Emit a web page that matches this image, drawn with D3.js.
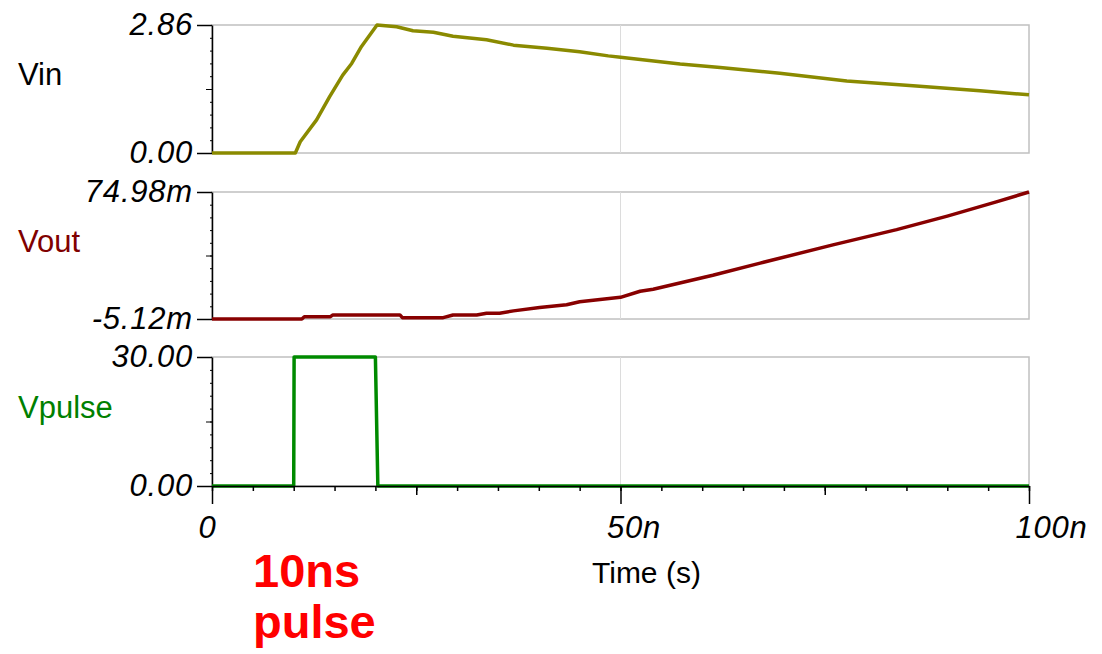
<!DOCTYPE html>
<html>
<head>
<meta charset="utf-8">
<script src="https://cdn.jsdelivr.net/npm/d3@7"></script>
<style>
  body { margin: 0; background: #fff; }
  svg text { font-family: "Liberation Sans", Arial, sans-serif; }
  .tick line { stroke: #000; }
</style>
</head>
<body>
<svg id="grafico" width="1102" height="654"></svg>
<script>
"use strict"
// time in ns
var tempoVin = [0, 10.2, 10.8, 12.8, 14.4, 16.0, 17.1, 18.3, 20.2, 22.6, 24.6, 27.1, 29.5, 33.6, 36.9, 41.0, 45, 48.5, 50, 57.3, 62.2, 69.5, 77.7, 85.8, 94, 100];
var valoresVin = [0, 0, 0.25, 0.74, 1.26, 1.74, 2.00, 2.38, 2.86, 2.82, 2.73, 2.70, 2.61, 2.53, 2.41, 2.34, 2.26, 2.17, 2.14, 1.99, 1.91, 1.78, 1.61, 1.50, 1.39, 1.30];

// Vout in mV
var tempoVout = [0, 11.0, 11.3, 14.5, 14.8, 23.0, 23.3, 28.3, 29.5, 32.4, 33.6, 35.2, 36.9, 40.1, 43.4, 45, 50, 52.4, 54, 61.3, 67.1, 76, 83.8, 90, 96, 100];
var valoresVout = [-5.12, -5.12, -3.65, -3.65, -2.56, -2.56, -4.29, -4.29, -2.56, -2.56, -1.47, -1.47, 0.01, 2.12, 3.85, 5.77, 8.53, 12.37, 13.66, 22.44, 30.12, 41.66, 51.27, 59.8, 68.77, 74.98];

var tempoPulse = [0, 10, 10.05, 20, 20.3, 100];
var valoresPulse = [0, 0, 30, 30, 0, 0];

var nomes = ["Vin", "Vout", "Vpulse"];
var cores = ["#8a8a00", "#880000", "#008a00"];
var corTexto = ["#000", "#800000", "#008000"];
var dominios = [[0, 2.86], [-5.12, 74.98], [0, 30]];
var rotulosY = [["0.00", "2.86"], ["-5.12m", "74.98m"], ["0.00", "30.00"]];
var ticksX = [0, 50, 100];
var rotulosX = ["0", "50n", "100n"];

var svg = d3.select("svg#grafico");
var esq = 212, dir = 1029;
var topos = [25, 192, 357], bases = [153, 319, 486];

var x = d3.scaleLinear().domain([0, 100]).range([esq, dir]);

var series = [
  d3.zip(tempoVin, valoresVin),
  d3.zip(tempoVout, valoresVout),
  d3.zip(tempoPulse, valoresPulse)
];

series.forEach(function(dados, i) {
  var y = d3.scaleLinear().domain(dominios[i]).range([bases[i], topos[i]]);
  var g = svg.append("g").attr("class", "painel");

  // frame + grid
  g.append("rect")
      .attr("x", esq).attr("y", topos[i])
      .attr("width", dir - esq).attr("height", bases[i] - topos[i])
      .attr("fill", "none").attr("stroke", "#c0c0c0").attr("stroke-width", 1.5);
  g.append("line")
      .attr("x1", x(50)).attr("x2", x(50))
      .attr("y1", topos[i]).attr("y2", bases[i])
      .attr("stroke", "#dcdcdc").attr("stroke-width", 1);

  // y axis: minor, medium, major
  var d0 = dominios[i][0], d1 = dominios[i][1];
  var menores = d3.range(11).map(function(k) { return d0 + k * (d1 - d0) / 10; });
  g.append("g").attr("transform", "translate(" + esq + ",0)")
      .call(d3.axisLeft(y).tickValues(menores).tickSize(2).tickFormat(""))
      .call(function(a) { a.select(".domain").remove(); });
  g.append("g").attr("transform", "translate(" + esq + ",0)")
      .call(d3.axisLeft(y).tickValues([(d0 + d1) / 2]).tickSize(6).tickFormat(""))
      .call(function(a) { a.select(".domain").remove(); });
  var eixoY = g.append("g").attr("transform", "translate(" + esq + ",0)")
      .call(d3.axisLeft(y).tickValues(dominios[i]).tickSize(15).tickSizeOuter(0).tickPadding(4)
        .tickFormat(function(d, k) { return rotulosY[i][k]; }));
  eixoY.select(".domain").attr("stroke", "#000").attr("stroke-width", 1.5);
  eixoY.selectAll(".tick line").attr("stroke-width", 1.5);
  eixoY.selectAll("text")
      .attr("font-size", 31).attr("font-style", "italic")
      .attr("letter-spacing", 0.8).attr("fill", "#000");

  g.append("text")
      .attr("x", 18).attr("y", (topos[i] + bases[i]) / 2 - 4)
      .attr("font-size", 31).attr("fill", corTexto[i])
      .text(nomes[i]);

  var linha = d3.line()
      .x(function(d) { return x(d[0]); })
      .y(function(d) { return y(d[1]); });

  g.append("path")
      .datum(dados)
      .attr("d", linha)
      .attr("fill", "none")
      .attr("stroke", cores[i])
      .attr("stroke-width", 3.5)
      .attr("stroke-linejoin", "round");
});

// x axis on the last panel
var baseX = bases[2];
var menoresX = d3.range(0, 101, 5);
svg.append("g").attr("transform", "translate(0," + baseX + ")")
    .call(d3.axisBottom(x).tickValues(menoresX).tickSize(5).tickFormat(""))
    .call(function(a) { a.select(".domain").remove(); a.selectAll("line").attr("stroke-width", 1.5); });
svg.append("g").attr("transform", "translate(0," + baseX + ")")
    .call(d3.axisBottom(x).tickValues([25, 75]).tickSize(9).tickFormat(""))
    .call(function(a) { a.select(".domain").remove(); a.selectAll("line").attr("stroke-width", 1.5); });
var eixoX = svg.append("g").attr("transform", "translate(0," + baseX + ")")
    .call(d3.axisBottom(x).tickValues(ticksX).tickSize(18).tickSizeOuter(0).tickPadding(12)
      .tickFormat(function(d, k) { return rotulosX[k]; }));
eixoX.select(".domain").attr("stroke", "#000").attr("stroke-width", 1.5);
eixoX.selectAll(".tick line").attr("stroke-width", 1.5);
eixoX.selectAll("text")
    .attr("font-size", 31).attr("font-style", "italic")
    .attr("letter-spacing", 0.8).attr("fill", "#000")
    .attr("text-anchor", "start").attr("x", -14);

svg.append("text")
    .attr("x", 592).attr("y", 583)
    .attr("font-size", 30).attr("fill", "#000")
    .text("Time (s)");

svg.append("text")
    .attr("x", 253).attr("y", 587)
    .attr("font-size", 47).attr("font-weight", "bold").attr("fill", "#ff0000")
    .text("10ns");
svg.append("text")
    .attr("x", 253).attr("y", 638)
    .attr("font-size", 47).attr("font-weight", "bold").attr("fill", "#ff0000")
    .text("pulse");
</script>
</body>
</html>
